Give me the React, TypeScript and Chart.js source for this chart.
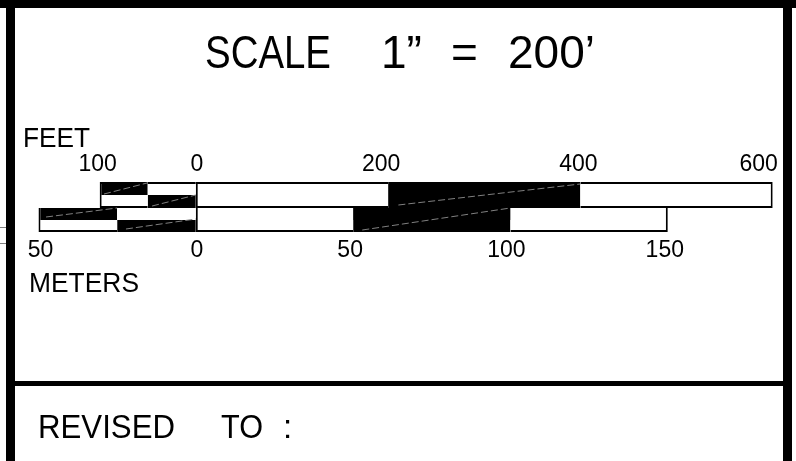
import React, { useEffect, useRef } from "react";
import { Chart, registerables } from "chart.js";

Chart.register(...registerables);

const feetTicks = [-100, 0, 200, 400, 600];
const meterTicks = [-50, 0, 50, 100, 150];
const feetSpans = [[-100, -50], [-50, 0], [0, 200], [200, 400], [400, 600]];
const meterSpans = [[-50, -25], [-25, 0], [0, 50], [50, 100], [100, 150]];
const upperDark = [true, false, false, true, false];
const lowerDark = [false, true, false, true, false];
const rows = ["upper", "lower"];
const feetDiagonals = [
  [[210.7, 0.54], [400, 0.96]],
  [[-95.5, 0.76], [-50.7, 0.98]],
  [[-45.5, 0.52], [0, 0.74]],
];
const meterDiagonals = [
  [[52.9, 0.04], [100, 0.48]],
  [[-47.6, 0.3], [-25, 0.48]],
  [[-22.2, 0.06], [0, 0.26]],
];

const INK = "#000000";
const FONT = '"Liberation Sans", Arial, sans-serif';

// scale ends chosen so that the axes keep their drawing scale on the canvas
const AREA = { left: 30, right: 780, top: 182, bottom: 232 };
const FEET_PX = 0.9625;
const METER_PX = 3.15;
const ZERO_PX = 196;

const feetLabelShift = [-2, 1, -7, -2, -14];
const meterLabelShift = [2, 1, -3, -4, -3];

const texts = [
  { text: "SCALE", x: 205, y: 68, size: 46, maxWidth: 126 },
  { text: "1\u201D", x: 381, y: 68, size: 46, maxWidth: 42 },
  { text: "=", x: 451, y: 68, size: 46, maxWidth: 30 },
  { text: "200\u2019", x: 508, y: 68, size: 46, maxWidth: 90 },
  { text: "FEET", x: 23, y: 147, size: 28, maxWidth: 67 },
  { text: "METERS", x: 29, y: 292, size: 28, maxWidth: 110 },
  { text: "REVISED", x: 38, y: 438, size: 33, maxWidth: 137 },
  { text: "TO", x: 221, y: 438, size: 33, maxWidth: 42 },
  { text: ":", x: 283, y: 438, size: 33, maxWidth: 12 },
];

const buildBars = (id: string, xAxisID: string, yAxisID: string, spans: number[][], topEdge: number) => {
  const points = rows.flatMap((row) => spans.map((span, i) => ({ span, i, row })));
  const widths = points.map((p) => ({
    top: p.row === "upper" ? topEdge : 0,
    bottom: p.row === "lower" ? 2 : 0,
    left: p.i === 0 || p.i === 2 ? 2 : 0,
    right: p.i === spans.length - 1 ? 2 : 0,
  }));
  return {
    label: id,
    type: "bar",
    xAxisID,
    yAxisID,
    data: points.map((p) => ({ x: p.span, y: p.row })),
    backgroundColor: points.map((p) => ((p.row === "upper" ? upperDark : lowerDark)[p.i] ? INK : "#ffffff")),
    borderColor: INK,
    borderWidth: (c: any) => widths[c.dataIndex],
    borderSkipped: false,
    barPercentage: 1,
    categoryPercentage: 1,
    grouped: false,
    inflateAmount: 0,
    order: 2,
    clip: false,
  };
};

const diagonal = (points: number[][], xAxisID: string, n: number) => ({
  label: `${xAxisID} diagonal ${n}`,
  type: "line",
  xAxisID,
  yAxisID: "yOverlay",
  data: points.map(([x, y]) => ({ x, y })),
  borderColor: "#808080",
  borderWidth: 1,
  borderDash: [7, 3],
  pointRadius: 0,
  tension: 0,
  order: 1,
  clip: false,
});

const drawingPlugin = {
  id: "drawing",
  beforeDraw(chart: any) {
    const { ctx } = chart;
    const shift = (id: string, amounts: number[]) => {
      const items = chart.scales[id].getLabelItems(chart.chartArea);
      items.forEach((item: any, i: number) => {
        if (!item.shifted) {
          item.options.translation = [item.options.translation[0] + amounts[i], item.options.translation[1]];
          item.shifted = true;
        }
      });
    };
    shift("xFeet", feetLabelShift);
    shift("xMeters", meterLabelShift);
    ctx.save();
    ctx.fillStyle = "#ffffff";
    ctx.fillRect(0, 0, 796, 461);
    ctx.fillStyle = INK;
    ctx.fillRect(0, 0, 796, 8);
    ctx.fillRect(6, 0, 9, 461);
    ctx.fillRect(783, 0, 9, 461);
    ctx.fillRect(15, 381, 768, 5);
    ctx.fillStyle = "#808080";
    ctx.fillRect(0, 227, 6, 1);
    ctx.fillRect(0, 243, 6, 1);
    ctx.fillStyle = INK;
    ctx.textBaseline = "alphabetic";
    ctx.textAlign = "left";
    texts.forEach((t) => {
      ctx.font = `${t.size}px ${FONT}`;
      ctx.fillText(t.text, t.x, t.y, t.maxWidth);
    });
    ctx.restore();
  },
};

export default function App() {
  const ref = useRef<HTMLCanvasElement>(null);
  useEffect(() => {
    const axisEnds = (px: number) => ({
      min: (AREA.left - ZERO_PX) / px,
      max: (AREA.right - ZERO_PX) / px,
    });
    const tickAxis = (position: string, ticks: number[], px: number, padding: number) => ({
      type: "linear",
      axis: "x",
      position,
      ...axisEnds(px),
      grid: { display: false, drawTicks: false },
      border: { display: false },
      afterBuildTicks: (s: any) => {
        s.ticks = ticks.map((value) => ({ value }));
      },
      afterFit: (s: any) => {
        s.height = 30;
      },
      ticks: {
        autoSkip: false,
        maxRotation: 0,
        minRotation: 0,
        padding,
        color: INK,
        font: { family: FONT, size: 23 },
        callback: (v: number) => String(Math.abs(v)),
      },
    });
    const rowAxis = (weight: number, order: number) => ({
      type: "category",
      axis: "y",
      position: "left",
      labels: rows,
      offset: true,
      display: false,
      stack: "scale",
      stackWeight: weight,
      weight: order,
      grid: { display: false },
    });
    const chart = new Chart(ref.current as HTMLCanvasElement, {
      type: "bar",
      plugins: [drawingPlugin],
      data: {
        datasets: [
          buildBars("Feet", "xFeet", "yFeet", feetSpans, 2),
          buildBars("Meters", "xMeters", "yMeters", meterSpans, 0),
          ...feetDiagonals.map((p, i) => diagonal(p, "xFeet", i)),
          ...meterDiagonals.map((p, i) => diagonal(p, "xMeters", i)),
        ],
      } as any,
      options: {
        indexAxis: "y",
        animation: false,
        responsive: false,
        devicePixelRatio: 1,
        layout: {
          autoPadding: false,
          padding: { left: AREA.left, right: 796 - AREA.right, top: AREA.top - 30, bottom: 461 - AREA.bottom - 30 },
        },
        plugins: { legend: { display: false }, title: { display: false }, tooltip: { enabled: false } },
        scales: {
          xFeet: tickAxis("top", feetTicks, FEET_PX, 4),
          xMeters: tickAxis("bottom", meterTicks, METER_PX, 5),
          yFeet: rowAxis(26, 1),
          yMeters: rowAxis(24, 0),
          yOverlay: { type: "linear", axis: "y", position: "right", min: 0, max: 1, offset: false, display: false },
        },
      } as any,
    });
    return () => chart.destroy();
  }, []);
  return (
    <div style={{ position: "fixed", left: 0, top: 0, width: 796, height: 461 }}>
      <canvas ref={ref} width={796} height={461} style={{ display: "block" }} />
    </div>
  );
}
